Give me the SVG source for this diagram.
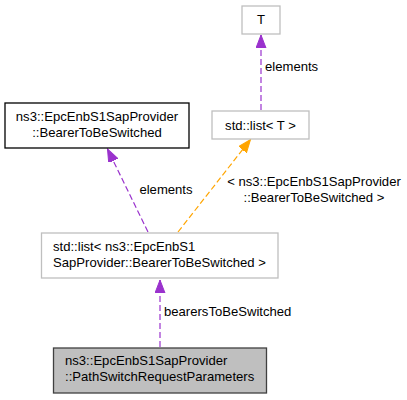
<svg xmlns="http://www.w3.org/2000/svg" width="407" height="400" viewBox="0 0 407 400">
<style>
text{font-family:"Liberation Sans",Arial,sans-serif;font-size:13.1px;fill:#000}
.c{text-anchor:middle}
.g{fill:#fff;stroke:#bfbfbf;stroke-width:1.3}
.k{fill:#fff;stroke:#000;stroke-width:1.3}
.s{fill:#bfbfbf;stroke:#404040;stroke-width:1.3}
.p{fill:none;stroke:#9a32cd;stroke-width:1.2;stroke-dasharray:6,3}
.o{fill:none;stroke:#ffa500;stroke-width:1.2;stroke-dasharray:6,3}
</style>
<defs>
<marker id="ap" markerUnits="userSpaceOnUse" markerWidth="14" markerHeight="12" refX="13" refY="5" orient="auto"><path d="M0,0L13,5L0,10z" fill="#9a32cd" stroke="#9a32cd"/></marker>
<marker id="ao" markerUnits="userSpaceOnUse" markerWidth="14" markerHeight="12" refX="13" refY="5" orient="auto"><path d="M0,0L13,5L0,10z" fill="#ffa500" stroke="#ffa500"/></marker>
</defs>
<g id="connectors">
<line class="p" x1="261" y1="110" x2="261" y2="35" marker-end="url(#ap)"/>
<text x="265" y="71">elements</text>
<line class="p" x1="148" y1="232" x2="107.5" y2="149" marker-end="url(#ap)"/>
<text class="c" x="166" y="194">elements</text>
<line class="o" x1="178" y1="232" x2="250.5" y2="139.5" marker-end="url(#ao)"/>
<text class="c" x="314" y="186">&lt; ns3::EpcEnbS1SapProvider</text>
<text class="c" x="314" y="202">::BearerToBeSwitched &gt;</text>
<line class="p" x1="160" y1="347" x2="160" y2="280" marker-end="url(#ap)"/>
<text x="164" y="316">bearersToBeSwitched</text>
</g>
<g id="nodeT">
<rect class="g" x="242" y="6" width="38" height="28"/>
<text class="c" x="261" y="24">T</text>
</g>
<g id="nodeListT">
<rect class="g" x="212" y="111" width="97" height="28"/>
<text class="c" x="260.5" y="130">std::list&lt; T &gt;</text>
</g>
<g id="nodeBearer">
<rect class="k" x="5" y="103" width="184" height="45"/>
<text class="c" x="97" y="121">ns3::EpcEnbS1SapProvider</text>
<text class="c" x="97" y="137">::BearerToBeSwitched</text>
</g>
<g id="nodeListBearer">
<rect class="g" x="41.5" y="233" width="236.5" height="45"/>
<text x="53" y="251">std::list&lt; ns3::EpcEnbS1</text>
<text x="53" y="267">SapProvider::BearerToBeSwitched &gt;</text>
</g>
<g id="nodePathSwitch">
<rect class="s" x="53.5" y="348" width="213" height="45"/>
<text x="65" y="365">ns3::EpcEnbS1SapProvider</text>
<text x="65" y="381">::PathSwitchRequestParameters</text>
</g>
</svg>
